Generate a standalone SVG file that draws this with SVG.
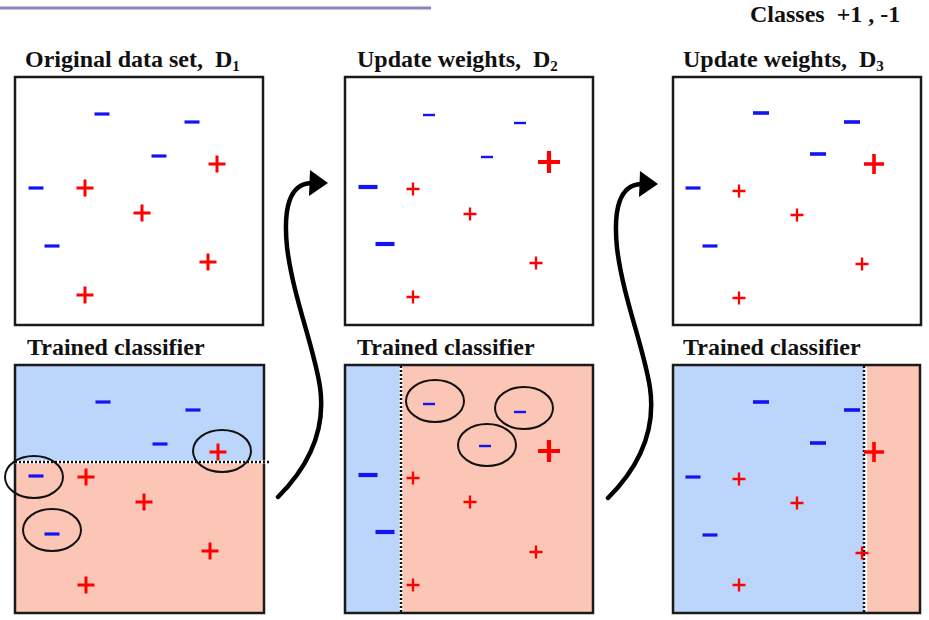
<svg xmlns="http://www.w3.org/2000/svg" xmlns:xlink="http://www.w3.org/1999/xlink" width="929" height="620" viewBox="0 0 929 620">
<style>
.box{fill:#fff;stroke:#1a1a1a;stroke-width:2.5}
.lbl{font-family:"Liberation Serif","Times New Roman",serif;font-weight:bold;font-size:24px;fill:#111;white-space:pre}
.sub{font-size:15px}
.blue{fill:#bcd5fa}
.pink{fill:#fcc6b6}
.ring{fill:none;stroke:#111;stroke-width:2}
.dotw{stroke:#fff;stroke-width:3}
.dot{stroke:#111;stroke-width:2.5;stroke-dasharray:2 2}
.arr{fill:none;stroke:#000;stroke-width:4.5;stroke-linecap:round}
</style>
<defs>
<path id="pl" d="M-8.5 0H8.5M0 -8.5V8.5" stroke="#f00" stroke-width="3"/>
<path id="ps" d="M-6.5 0H6.5M0 -6.5V6.5" stroke="#f00" stroke-width="2.3"/>
<path id="pb" d="M-11 0H11M0 -11V11" stroke="#f00" stroke-width="4.2"/>
<path id="pm" d="M-10 0H10M0 -10V10" stroke="#f00" stroke-width="3.6"/>
<path id="mm" d="M-7.5 0H7.5" stroke="#1414f0" stroke-width="3.2"/>
<path id="ms" d="M-6 0H6" stroke="#1414f0" stroke-width="2.4"/>
<path id="mb" d="M-9.5 0H9.5" stroke="#1414f0" stroke-width="4.2"/>
<path id="m3" d="M-8 0H8" stroke="#1414f0" stroke-width="3.6"/>
<path id="arrow" d="M0 0C32 -32 48 -68 42 -110C36 -150 15 -200 9 -250C5 -290 12 -313 33 -314" class="arr"/>
<path id="head" d="M32 -327L50 -314L31 -301Z" fill="#000"/>
</defs>

<g id="title">
<line x1="0" y1="8" x2="431" y2="8" stroke="#8888b8" stroke-width="3"/>
<text class="lbl" x="750" y="22" xml:space="preserve">Classes  +1 , -1</text>
</g>

<g id="d1">
<text class="lbl" x="25" y="67" xml:space="preserve">Original data set,  D<tspan class="sub" dy="4">1</tspan></text>
<rect class="box" x="15" y="77" width="248" height="248"/>
<use href="#mm" x="102" y="114"/><use href="#mm" x="192" y="122"/><use href="#mm" x="159" y="156"/><use href="#mm" x="36" y="188"/><use href="#mm" x="52" y="246"/>
<use href="#pl" x="217" y="164"/><use href="#pl" x="85" y="188"/><use href="#pl" x="142" y="213"/><use href="#pl" x="208" y="262"/><use href="#pl" x="85" y="295"/>
</g>

<g id="c1">
<text class="lbl" x="27" y="355">Trained classifier</text>
<rect class="blue" x="15" y="365" width="249" height="97"/>
<rect class="pink" x="15" y="462" width="249" height="151"/>
<rect class="box" x="15" y="365" width="249" height="248" style="fill:none"/>
<line class="dotw" x1="15" y1="462" x2="271" y2="462"/>
<line class="dot" x1="15" y1="462" x2="271" y2="462"/>
<use href="#mm" x="103" y="402"/><use href="#mm" x="193" y="410"/><use href="#mm" x="160" y="444"/><use href="#mm" x="36" y="476"/><use href="#mm" x="52" y="534"/>
<use href="#pl" x="218" y="452"/><use href="#pl" x="86" y="477"/><use href="#pl" x="144" y="502"/><use href="#pl" x="210" y="551"/><use href="#pl" x="86" y="585"/>
<ellipse class="ring" cx="222" cy="451" rx="29" ry="21"/>
<ellipse class="ring" cx="34" cy="477" rx="29" ry="21"/>
<ellipse class="ring" cx="52" cy="530" rx="29" ry="21"/>
</g>

<g id="d2">
<text class="lbl" x="357" y="67" xml:space="preserve">Update weights,  D<tspan class="sub" dy="4">2</tspan></text>
<rect class="box" x="345" y="77" width="248" height="248"/>
<use href="#ms" x="429" y="115"/><use href="#ms" x="520" y="123"/><use href="#ms" x="487" y="157"/><use href="#mb" x="368" y="187"/><use href="#mb" x="385" y="244"/>
<use href="#pb" x="549" y="162"/><use href="#ps" x="413" y="189"/><use href="#ps" x="470" y="214"/><use href="#ps" x="536" y="263"/><use href="#ps" x="413" y="297"/>
</g>

<g id="c2">
<text class="lbl" x="357" y="355">Trained classifier</text>
<rect class="blue" x="345" y="365" width="56" height="248"/>
<rect class="pink" x="401" y="365" width="192" height="248"/>
<rect class="box" x="345" y="365" width="248" height="248" style="fill:none"/>
<line class="dotw" x1="401" y1="366" x2="401" y2="612"/>
<line class="dot" x1="401" y1="366" x2="401" y2="612"/>
<use href="#ms" x="429" y="404"/><use href="#ms" x="520" y="412"/><use href="#ms" x="485" y="446"/><use href="#mb" x="368" y="475"/><use href="#mb" x="385" y="532"/>
<use href="#pb" x="549" y="451"/><use href="#ps" x="413" y="478"/><use href="#ps" x="470" y="502"/><use href="#ps" x="536" y="552"/><use href="#ps" x="413" y="585"/>
<ellipse class="ring" cx="435" cy="401" rx="29" ry="21"/>
<ellipse class="ring" cx="524" cy="408" rx="29" ry="21"/>
<ellipse class="ring" cx="487" cy="445" rx="29" ry="21"/>
</g>

<g id="d3">
<text class="lbl" x="683" y="67" xml:space="preserve">Update weights,  D<tspan class="sub" dy="4">3</tspan></text>
<rect class="box" x="673" y="77" width="248" height="248"/>
<use href="#m3" x="761" y="113"/><use href="#m3" x="852" y="122"/><use href="#m3" x="818" y="154"/><use href="#mm" x="693" y="188"/><use href="#mm" x="710" y="246"/>
<use href="#pm" x="874" y="164"/><use href="#ps" x="739" y="191"/><use href="#ps" x="797" y="215"/><use href="#ps" x="862" y="264"/><use href="#ps" x="739" y="298"/>
</g>

<g id="c3">
<text class="lbl" x="683" y="355">Trained classifier</text>
<rect class="blue" x="673" y="365" width="191" height="248"/>
<rect class="pink" x="867" y="365" width="53" height="248"/>
<rect class="box" x="673" y="365" width="247" height="248" style="fill:none"/>
<line class="dot" x1="864" y1="366" x2="864" y2="612"/>
<use href="#m3" x="761" y="402"/><use href="#m3" x="852" y="410"/><use href="#m3" x="818" y="443"/><use href="#mm" x="693" y="477"/><use href="#mm" x="710" y="535"/>
<use href="#pm" x="874" y="452"/><use href="#ps" x="739" y="479"/><use href="#ps" x="797" y="503"/><use href="#ps" x="862" y="553"/><use href="#ps" x="739" y="585"/>
</g>

<g id="connectors">
<g transform="translate(278 497)"><use href="#arrow"/><use href="#head"/></g>
<g transform="translate(608 498)"><use href="#arrow"/><use href="#head"/></g>
</g>
</svg>
